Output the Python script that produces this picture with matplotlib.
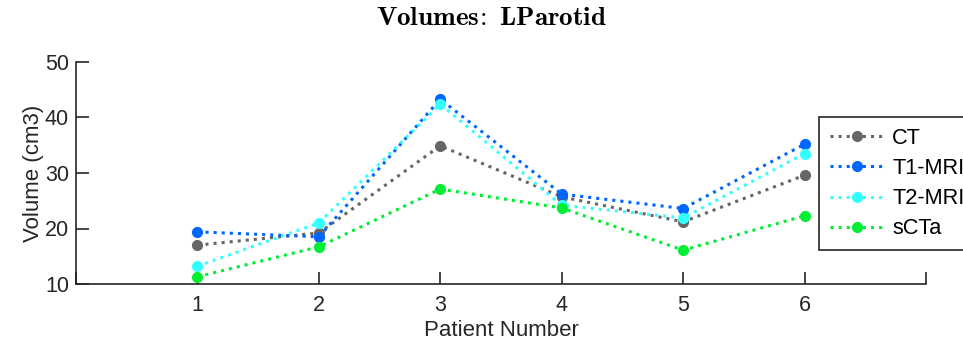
import matplotlib
matplotlib.use("Agg")
import matplotlib.pyplot as plt

plt.rcParams['font.family'] = ['Liberation Sans', 'DejaVu Sans']
plt.rcParams['mathtext.fontset'] = 'cm'

patients = [1, 2, 3, 4, 5, 6]
ct = [17.0, 19.2, 34.9, 25.7, 21.2, 29.6]
t1_mri = [19.4, 18.5, 43.3, 26.2, 23.6, 35.2]
t2_mri = [13.2, 21.0, 42.4, 24.2, 21.9, 33.5]
scta = [11.3, 16.7, 27.1, 23.7, 16.1, 22.3]

series = [
    ("CT", ct, "#666666"),
    ("T1-MRI", t1_mri, "#0066FF"),
    ("T2-MRI", t2_mri, "#33FFFF"),
    ("sCTa", scta, "#00EE33"),
]

fig = plt.figure(figsize=(9.63, 3.43), dpi=100)
ax = fig.add_axes([76 / 963, 1 - 284 / 343, (926 - 76) / 963, (284 - 62) / 343])

for name, vals, col in series:
    ax.plot(patients, vals, linestyle=':', linewidth=2.2, color=col,
            marker='o', markersize=7, markeredgecolor=col, label=name)

ax.set_xlim(0, 7)
ax.set_ylim(10, 50)
ax.set_xticks(range(0, 8))
ax.set_xticklabels([''] + [str(p) for p in patients] + [''])
ax.set_yticks([10, 20, 30, 40, 50])

for s in ('top', 'right'):
    ax.spines[s].set_visible(False)
for s in ('left', 'bottom'):
    ax.spines[s].set_linewidth(1.2)
    ax.spines[s].set_color('#262626')

ax.tick_params(direction='in', length=9, width=1.2, labelsize=15.5, pad=8,
               colors='#262626')
ax.tick_params(axis='y', pad=5)

ax.set_xlabel('Patient Number', fontsize=16, color='#262626', labelpad=3)
ax.set_ylabel('Volume (cm3)', fontsize=16, color='#262626', labelpad=1)

fig.text(0.51, 1 - 18 / 343, r'$\mathbf{Volumes\!:\ LParotid}$',
         ha='center', va='center', fontsize=19.5)

leg = ax.legend(loc='upper left', bbox_to_anchor=(819 / 963, 1 - 117 / 343),
                bbox_transform=fig.transFigure, fontsize=15.7, frameon=True,
                fancybox=False, framealpha=1, edgecolor='#262626',
                handlelength=2.45, handletextpad=0.4, borderpad=0.5,
                labelspacing=0.42, borderaxespad=0)
leg.get_frame().set_linewidth(1.2)

fig.savefig('out.png', dpi=100)
